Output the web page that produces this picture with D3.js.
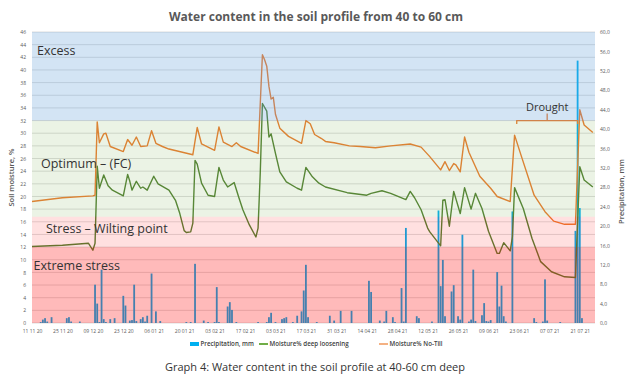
<!DOCTYPE html>
<html>
<head>
<meta charset="utf-8">
<script src="https://cdn.jsdelivr.net/npm/d3@7"></script>
<style>
  body { margin: 0; background: #fff; }
  svg { font-family: "Open Sans", sans-serif; }
</style>
</head>
<body>
<div id="chart"></div>
<script>
// Data
const xTickLabels = ["11 11 20", "25 11 20", "09 12 20", "23 12 20", "06 01 21", "20 01 21", "03 02 21",
  "17 02 21", "03 03 21", "17 03 21", "31 03 21", "14 04 21", "28 04 21", "12 05 21", "26 05 21",
  "09 06 21", "23 06 21", "07 07 21", "21 07 21"];

const zoneLimits = [0, 12, 16.8, 32, 46];
const zoneNames = ["Extreme stress", "Stress – Wilting point", "Optimum – (FC)", "Excess"];

// Moisture% No-Till
const noTill = [
  ["2020-11-11", 19.2], ["2020-11-25", 19.8], ["2020-12-09", 20.1], ["2020-12-10", 20.2], ["2020-12-11", 31.8],
  ["2020-12-12", 28.5], ["2020-12-14", 29.9], ["2020-12-15", 30.0], ["2020-12-17", 27.9], ["2020-12-23", 27.1],
  ["2020-12-25", 29.0], ["2020-12-27", 28.1], ["2020-12-29", 29.4], ["2020-12-31", 27.9], ["2021-01-03", 28.0],
  ["2021-01-05", 30.4], ["2021-01-07", 28.4], ["2021-01-10", 27.9], ["2021-01-13", 27.5], ["2021-01-24", 26.6],
  ["2021-01-26", 30.9], ["2021-01-28", 28.3], ["2021-02-03", 27.3], ["2021-02-05", 31.0], ["2021-02-07", 28.6],
  ["2021-02-11", 27.9], ["2021-02-13", 28.5], ["2021-02-15", 27.9], ["2021-02-23", 26.8], ["2021-02-25", 42.4],
  ["2021-02-26", 41.6], ["2021-02-27", 40.6], ["2021-02-28", 37.4], ["2021-03-01", 35.4], ["2021-03-02", 35.7],
  ["2021-03-03", 33.0], ["2021-03-05", 30.8], ["2021-03-09", 29.5], ["2021-03-15", 28.4], ["2021-03-17", 32.0],
  ["2021-03-19", 31.5], ["2021-03-21", 29.8], ["2021-03-24", 29.2], ["2021-03-26", 28.7], ["2021-03-30", 28.5],
  ["2021-04-06", 28.0], ["2021-04-11", 27.9], ["2021-04-18", 27.7], ["2021-04-25", 28.0], ["2021-05-04", 28.3],
  ["2021-05-09", 27.8], ["2021-05-13", 26.3], ["2021-05-18", 24.2], ["2021-05-20", 25.5], ["2021-05-22", 24.1],
  ["2021-05-24", 25.2], ["2021-05-25", 25.0], ["2021-05-27", 23.9], ["2021-05-29", 29.4], ["2021-05-31", 27.0],
  ["2021-06-05", 23.2], ["2021-06-10", 21.3], ["2021-06-13", 20.0], ["2021-06-19", 19.2], ["2021-06-21", 29.7],
  ["2021-06-24", 26.5], ["2021-06-30", 20.2], ["2021-07-05", 17.6], ["2021-07-09", 16.1], ["2021-07-14", 15.6],
  ["2021-07-19", 15.6], ["2021-07-21", 33.7], ["2021-07-23", 31.3], ["2021-07-27", 30.1]
];

// Moisture% deep loosening
const deepLoosening = [
  ["2020-11-11", 12.1], ["2020-11-25", 12.3], ["2020-12-07", 12.6], ["2020-12-09", 11.5], ["2020-12-10", 12.6],
  ["2020-12-11", 24.8], ["2020-12-12", 21.3], ["2020-12-14", 23.4], ["2020-12-16", 21.7], ["2020-12-18", 21.0],
  ["2020-12-23", 20.1], ["2020-12-25", 23.5], ["2020-12-26", 22.4], ["2020-12-27", 21.0], ["2020-12-29", 22.4],
  ["2020-12-31", 21.3], ["2021-01-01", 21.5], ["2021-01-03", 21.0], ["2021-01-06", 23.2], ["2021-01-08", 22.0],
  ["2021-01-13", 21.0], ["2021-01-16", 19.4], ["2021-01-18", 17.3], ["2021-01-20", 14.6], ["2021-01-21", 14.3],
  ["2021-01-23", 14.4], ["2021-01-24", 15.8], ["2021-01-25", 25.7], ["2021-01-26", 25.1], ["2021-01-28", 22.1],
  ["2021-01-31", 20.2], ["2021-02-03", 20.0], ["2021-02-05", 24.6], ["2021-02-07", 22.6], ["2021-02-09", 21.5],
  ["2021-02-12", 22.2], ["2021-02-14", 20.0], ["2021-02-16", 17.9], ["2021-02-19", 15.5], ["2021-02-22", 13.6],
  ["2021-02-23", 15.0], ["2021-02-24", 23.7], ["2021-02-25", 34.7], ["2021-02-27", 33.5], ["2021-02-28", 29.4],
  ["2021-03-01", 29.9], ["2021-03-03", 26.8], ["2021-03-05", 23.9], ["2021-03-08", 22.3], ["2021-03-13", 21.3],
  ["2021-03-15", 21.0], ["2021-03-17", 24.6], ["2021-03-20", 23.1], ["2021-03-23", 22.1], ["2021-03-26", 21.5],
  ["2021-04-05", 20.6], ["2021-04-14", 20.2], ["2021-04-16", 20.5], ["2021-04-21", 20.9], ["2021-04-25", 20.5],
  ["2021-05-02", 19.5], ["2021-05-04", 20.8], ["2021-05-06", 19.8], ["2021-05-09", 17.9], ["2021-05-12", 15.0],
  ["2021-05-13", 14.4], ["2021-05-18", 12.2], ["2021-05-19", 19.4], ["2021-05-20", 19.5], ["2021-05-22", 15.3],
  ["2021-05-24", 20.8], ["2021-05-27", 17.3], ["2021-05-29", 21.4], ["2021-06-01", 18.0], ["2021-06-03", 20.5],
  ["2021-06-06", 18.1], ["2021-06-09", 14.5], ["2021-06-13", 11.0], ["2021-06-14", 11.0], ["2021-06-16", 12.7],
  ["2021-06-19", 11.4], ["2021-06-20", 13.6], ["2021-06-21", 21.4], ["2021-06-25", 18.1], ["2021-06-29", 13.4],
  ["2021-07-03", 9.7], ["2021-07-08", 8.1], ["2021-07-14", 7.3], ["2021-07-19", 7.2], ["2021-07-21", 24.7],
  ["2021-07-23", 22.6], ["2021-07-27", 21.5]
];

// Precipitation, mm
const precipitation = [
  ["2020-11-15", 0.2], ["2020-11-16", 0.7], ["2020-11-17", 1.0], ["2020-11-18", 0.3], ["2020-11-20", 1.2],
  ["2020-11-27", 1.0], ["2020-11-28", 1.2], ["2020-11-29", 0.3], ["2020-12-03", 0.3], ["2020-12-10", 7.9],
  ["2020-12-11", 4.0], ["2020-12-12", 0.2], ["2020-12-13", 11.0], ["2020-12-14", 0.8], ["2020-12-15", 0.2],
  ["2020-12-17", 0.8], ["2020-12-19", 1.0], ["2020-12-23", 5.6], ["2020-12-24", 3.6], ["2020-12-26", 0.5],
  ["2020-12-27", 0.6], ["2020-12-28", 7.9], ["2020-12-29", 0.4], ["2020-12-31", 0.8], ["2021-01-01", 1.2],
  ["2021-01-02", 0.3], ["2021-01-03", 1.5], ["2021-01-05", 10.2], ["2021-01-07", 2.4], ["2021-01-09", 0.4],
  ["2021-01-21", 0.2], ["2021-01-23", 0.2], ["2021-01-25", 12.2], ["2021-01-29", 0.5], ["2021-01-31", 0.2],
  ["2021-02-03", 0.2], ["2021-02-04", 7.4], ["2021-02-05", 0.2], ["2021-02-09", 3.4], ["2021-02-10", 4.3],
  ["2021-02-11", 2.7], ["2021-02-13", 0.2], ["2021-02-23", 0.2], ["2021-02-27", 0.2], ["2021-02-28", 1.2],
  ["2021-03-01", 2.1], ["2021-03-03", 0.2], ["2021-03-06", 0.8], ["2021-03-07", 1.0], ["2021-03-08", 1.2],
  ["2021-03-11", 0.2], ["2021-03-13", 1.5], ["2021-03-15", 2.4], ["2021-03-16", 6.7], ["2021-03-17", 12.0],
  ["2021-03-18", 1.2], ["2021-03-22", 0.2], ["2021-03-28", 1.5], ["2021-03-30", 0.5], ["2021-04-02", 2.5],
  ["2021-04-07", 2.5], ["2021-04-15", 8.7], ["2021-04-16", 6.4], ["2021-04-20", 0.5], ["2021-04-22", 0.3],
  ["2021-04-23", 2.5], ["2021-04-26", 1.2], ["2021-04-27", 0.2], ["2021-04-30", 7.2], ["2021-05-01", 0.3],
  ["2021-05-02", 19.6], ["2021-05-07", 1.4], ["2021-05-08", 1.0], ["2021-05-14", 0.3], ["2021-05-17", 23.2],
  ["2021-05-18", 7.6], ["2021-05-19", 13.0], ["2021-05-20", 1.4], ["2021-05-23", 6.5], ["2021-05-24", 7.8],
  ["2021-05-26", 1.4], ["2021-05-27", 0.7], ["2021-05-28", 18.2], ["2021-05-31", 0.3], ["2021-06-01", 0.7],
  ["2021-06-02", 11.0], ["2021-06-03", 0.4], ["2021-06-06", 1.6], ["2021-06-07", 4.1], ["2021-06-08", 0.4],
  ["2021-06-09", 0.3], ["2021-06-10", 0.6], ["2021-06-13", 10.5], ["2021-06-14", 3.4], ["2021-06-15", 7.7],
  ["2021-06-16", 1.4], ["2021-06-17", 0.3], ["2021-06-20", 23.0], ["2021-06-30", 1.0], ["2021-07-01", 0.2],
  ["2021-07-04", 0.3], ["2021-07-05", 9.0], ["2021-07-06", 0.5], ["2021-07-12", 0.2], ["2021-07-19", 19.0],
  ["2021-07-20", 54.1], ["2021-07-21", 23.7], ["2021-07-22", 1.0]
];

const svgWidth = 630;
const svgHeight = 383;

const margin = { top: 32, right: 35, bottom: 60, left: 32 };

const width = svgWidth - margin.left - margin.right;
const height = svgHeight - margin.top - margin.bottom;

const parseDate = d3.timeParse("%Y-%m-%d");
const parseTick = d3.timeParse("%d %m %y");

const svg = d3.select("#chart")
  .append("svg")
  .attr("width", svgWidth)
  .attr("height", svgHeight);

const chartGroup = svg.append("g")
  .attr("transform", `translate(${margin.left}, ${margin.top})`);

// scales
const xScale = d3.scaleTime()
  .domain([parseDate("2020-11-11"), parseDate("2021-07-28")])
  .range([0, width]);

const yMoisture = d3.scaleLinear().domain([0, 46]).range([height, 0]);
const yRain = d3.scaleLinear().domain([0, 60]).range([height, 0]);

// gridlines
chartGroup.selectAll(".grid")
  .data(d3.range(0, 47, 2))
  .enter()
  .append("line")
  .attr("x1", 0)
  .attr("x2", width)
  .attr("y1", d => yMoisture(d))
  .attr("y2", d => yMoisture(d))
  .attr("stroke", "#d4d4d4")
  .attr("stroke-width", 0.8);

// precipitation bars
chartGroup.selectAll(".bar")
  .data(precipitation)
  .enter()
  .append("rect")
  .attr("x", d => xScale(parseDate(d[0])) - 0.9)
  .attr("width", 1.8)
  .attr("y", d => yRain(d[1]))
  .attr("height", d => height - yRain(d[1]))
  .attr("fill", "#00b0f0");

// moisture lines
const line = d3.line()
  .x(d => xScale(parseDate(d[0])))
  .y(d => yMoisture(d[1]));

chartGroup.append("path")
  .datum(deepLoosening)
  .attr("d", line)
  .attr("fill", "none")
  .attr("stroke", "#548235")
  .attr("stroke-width", 1.4)
  .attr("stroke-linejoin", "round");

chartGroup.append("path")
  .datum(noTill)
  .attr("d", line)
  .attr("fill", "none")
  .attr("stroke", "#ed7d31")
  .attr("stroke-width", 1.4)
  .attr("stroke-linejoin", "round");

// drought bracket
const dStart = xScale(parseDate("2021-06-22"));
const dEnd = xScale(parseDate("2021-07-20"));
const dY = yMoisture(32);
chartGroup.append("path")
  .attr("d", `M${dStart},${dY + 3.5}V${dY}H${dEnd}V${dY + 3.5}M${(dStart + dEnd) / 2},${dY}v-7`)
  .attr("fill", "none")
  .attr("stroke", "#ed7d31")
  .attr("stroke-width", 1.3);

// zone bands drawn over the series, like the semi-transparent areas of the original
const zoneColors = ["rgba(255,0,0,0.27)", "rgba(255,0,0,0.12)", "rgba(112,173,71,0.14)", "rgba(91,155,213,0.27)"];
chartGroup.selectAll(".zone")
  .data(zoneNames)
  .enter()
  .append("rect")
  .attr("x", 0)
  .attr("width", width)
  .attr("y", (d, i) => yMoisture(zoneLimits[i + 1]))
  .attr("height", (d, i) => yMoisture(zoneLimits[i]) - yMoisture(zoneLimits[i + 1]))
  .attr("fill", (d, i) => zoneColors[i]);

// zone labels
const zoneLabelPos = [[1.5, 8.3], [14, 14.3], [9, 24.5], [5, 42.4]];
chartGroup.selectAll(".zoneLabel")
  .data(zoneNames)
  .enter()
  .append("text")
  .attr("x", (d, i) => zoneLabelPos[i][0])
  .attr("y", (d, i) => yMoisture(zoneLabelPos[i][1]))
  .text(d => d)
  .attr("font-size", "12.5px")
  .attr("fill", "#333");

chartGroup.append("text")
  .attr("x", (dStart + dEnd) / 2)
  .attr("y", dY - 10)
  .attr("text-anchor", "middle")
  .attr("font-size", "11px")
  .attr("fill", "#333")
  .text("Drought");

// axes
const bottomAxis = d3.axisBottom(xScale)
  .tickValues(xTickLabels.map(parseTick))
  .tickFormat(d3.timeFormat("%d %m %y"))
  .tickSize(0)
  .tickPadding(6);

const leftAxis = d3.axisLeft(yMoisture)
  .tickValues(d3.range(0, 47, 2))
  .tickSize(0)
  .tickPadding(6);

const rightAxis = d3.axisRight(yRain)
  .tickValues(d3.range(0, 61, 4))
  .tickFormat(d => d3.format(".1f")(d).replace(".", ","))
  .tickSize(0)
  .tickPadding(5);

const axisStyle = g => {
  g.select(".domain").remove();
  g.selectAll("text")
    .attr("font-family", "Open Sans, sans-serif")
    .attr("font-size", "5px")
    .attr("fill", "#595959");
};

chartGroup.append("g")
  .attr("transform", `translate(0, ${height})`)
  .call(bottomAxis)
  .call(axisStyle);

chartGroup.append("g")
  .call(leftAxis)
  .call(axisStyle);

chartGroup.append("g")
  .attr("transform", `translate(${width}, 0)`)
  .call(rightAxis)
  .call(axisStyle);

// axis titles
svg.append("text")
  .attr("transform", `translate(14, ${margin.top + height / 2}) rotate(-90)`)
  .attr("text-anchor", "middle")
  .attr("font-size", "7.5px")
  .attr("font-weight", 600)
  .attr("fill", "#595959")
  .text("Soil moisture, %");

svg.append("text")
  .attr("transform", `translate(624, ${margin.top + height / 2 + 14}) rotate(-90)`)
  .attr("text-anchor", "middle")
  .attr("font-size", "7.5px")
  .attr("font-weight", 600)
  .attr("fill", "#595959")
  .text("Precipitation, mm");

// title
svg.append("text")
  .attr("x", 316)
  .attr("y", 21)
  .attr("text-anchor", "middle")
  .attr("font-size", "12px")
  .attr("font-weight", "bold")
  .attr("fill", "#595959")
  .text("Water content in the soil profile from 40 to 60 cm");

// legend
const legendNames = ["Precipitation, mm", "Moisture% deep loosening", "Moisture% No-Till"];
const legendColors = ["#00b0f0", "#70ad47", "#f4b183"];
const legendX = [190, 259, 379];
const legend = svg.selectAll(".legend")
  .data(legendNames)
  .enter()
  .append("g")
  .attr("transform", (d, i) => `translate(${legendX[i]}, 344)`);

legend.append("rect")
  .attr("x", 0)
  .attr("y", (d, i) => i === 0 ? -2 : -1)
  .attr("width", 9)
  .attr("height", (d, i) => i === 0 ? 4 : 2)
  .attr("fill", (d, i) => legendColors[i]);

legend.append("text")
  .attr("x", 10.5)
  .attr("y", 2.2)
  .attr("font-size", "6.2px")
  .attr("font-weight", 600)
  .attr("fill", "#404040")
  .text(d => d);

// caption
svg.append("text")
  .attr("x", 315)
  .attr("y", 371)
  .attr("text-anchor", "middle")
  .attr("font-size", "11px")
  .attr("fill", "#333")
  .text("Graph 4: Water content in the soil profile at 40-60 cm deep");
</script>
</body>
</html>
